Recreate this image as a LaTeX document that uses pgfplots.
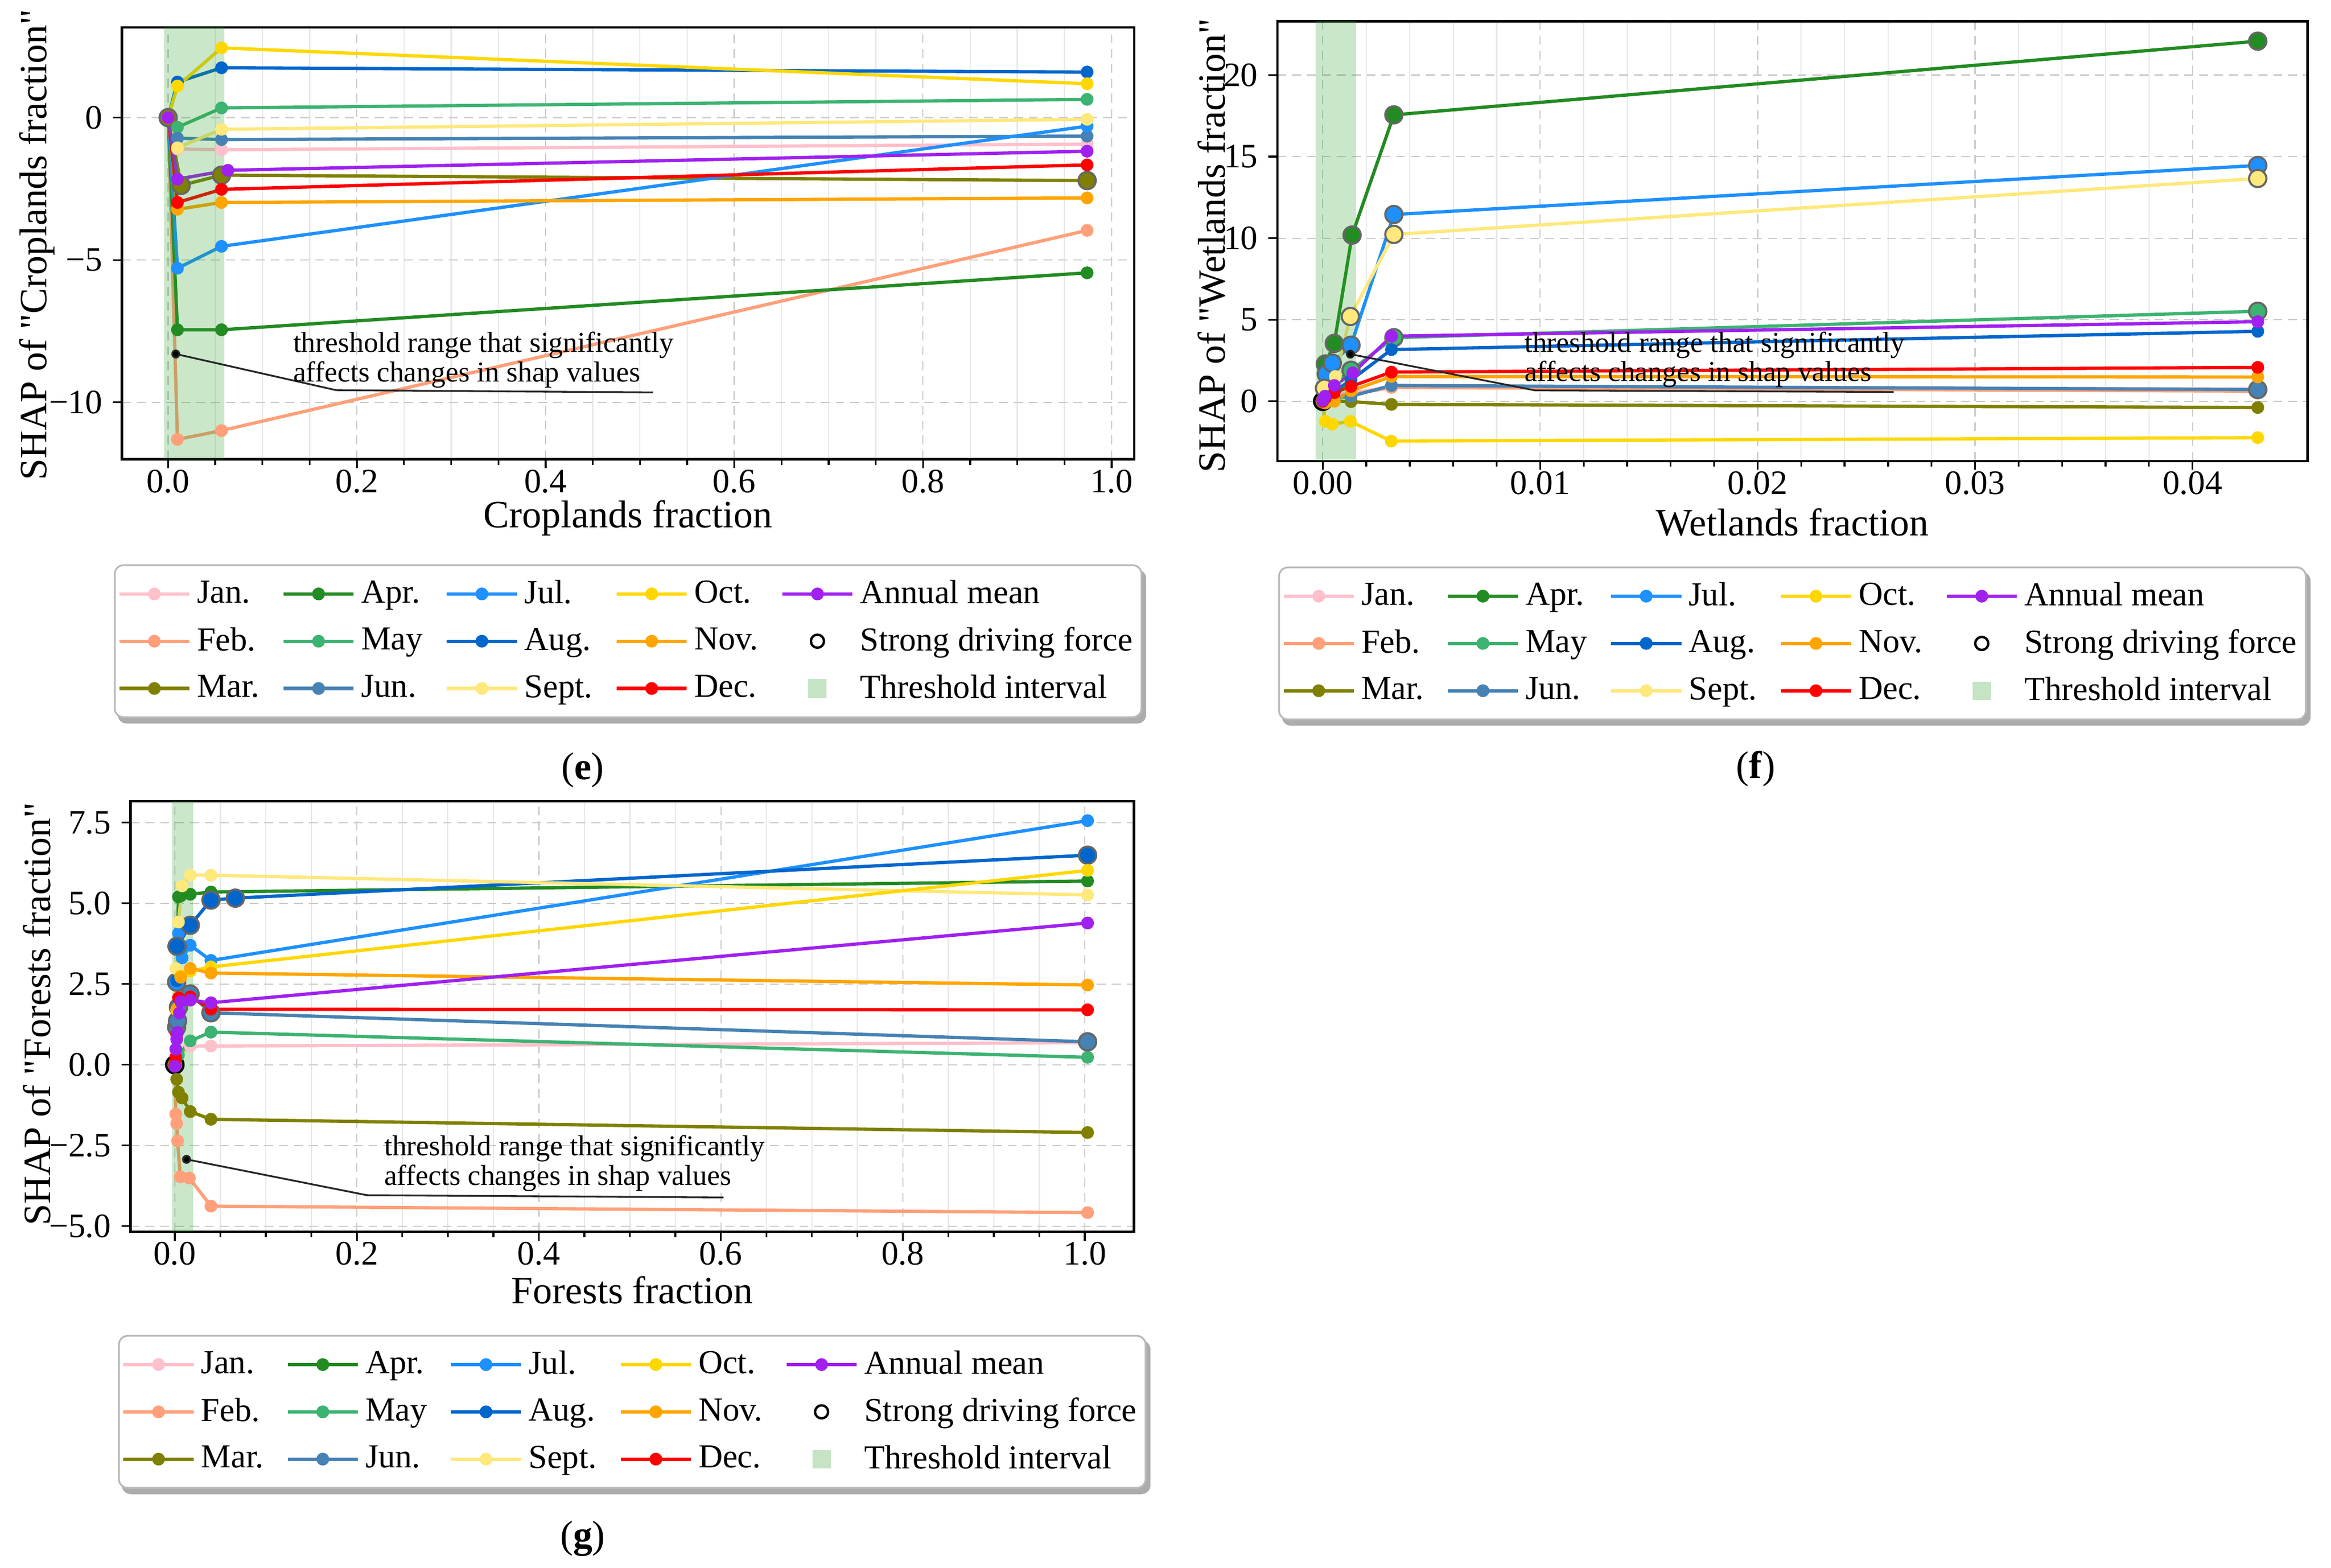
\documentclass[border=0pt]{standalone}
\usepackage{fontspec}
\setmainfont{Liberation Serif}[Ligatures=TeXOff]
\usepackage{pgfplots}
\pgfplotsset{compat=1.18}
\pgfdeclarelayer{background}
\pgfsetlayers{background,main}

\definecolor{cjan}{HTML}{FFC0CB}
\definecolor{cfeb}{HTML}{FFA07A}
\definecolor{cmar}{HTML}{808000}
\definecolor{capr}{HTML}{228B22}
\definecolor{cmay}{HTML}{3CB371}
\definecolor{cjun}{HTML}{4682B4}
\definecolor{cjul}{HTML}{1E90FF}
\definecolor{caug}{HTML}{0066CC}
\definecolor{csep}{HTML}{FFE87C}
\definecolor{coct}{HTML}{FFD700}
\definecolor{cnov}{HTML}{FFA500}
\definecolor{cdec}{HTML}{FF0000}
\definecolor{cann}{HTML}{A020F0}
\definecolor{cband}{HTML}{2CA02C}

\pgfplotsset{
  ser/.style={forget plot, color=#1, line width=1.1pt, mark=*, mark size=2pt, mark options={solid, fill=#1, draw=#1, line width=0.3pt}},
  serleg/.style={color=#1, line width=1.1pt, mark=*, mark size=2pt, mark options={solid, fill=#1, draw=#1, line width=0.3pt}},
  strong/.style={forget plot, only marks, mark=*, mark size=2.9pt, mark options={fill=#1, draw=black!60, line width=0.7pt}},
  strongk/.style={forget plot, only marks, mark=*, mark size=2.9pt, mark options={fill=#1, draw=black, line width=0.8pt}},
  ann/.style={forget plot, black!85, line width=0.6pt, mark=*, mark size=1.2pt, mark indices={1}, mark options={solid, fill=black}},
  band/.style={forget plot, fill=cband, fill opacity=0.25, draw=none},
  panel/.style={
    scale only axis, anchor=north west, clip=true,
    axis line style={line width=0.8pt, black},
    tick align=outside, tick pos=left,
    major tick length=3pt, minor tick length=1.8pt,
    tick style={black, line width=0.6pt},
    scaled x ticks=false, scaled y ticks=false,
    xmajorgrids=true, xminorgrids=true, ymajorgrids=true,
    major grid style={densely dashed, gray!40, line width=0.4pt},
    minor grid style={gray!18, line width=0.4pt},
    tick label style={font=\fontsize{11.5}{13}\selectfont},
    xticklabel style={yshift=3pt},
    label style={font=\fontsize{13}{15}\selectfont},
    legend columns=5, legend cell align=left,
    legend image code/.code={\draw[mark repeat=2,mark phase=2,##1] plot coordinates {(0pt,0pt) (11.8pt,0pt) (23.6pt,0pt)};},
    legend style={anchor=north, draw=gray!55, line width=0.6pt, rounded corners=3pt, fill=white,
       font=\fontsize{11.3}{13}\selectfont, inner xsep=1pt, inner ysep=3pt, row sep=2.5pt,
       /tikz/every even column/.append style={column sep=5.5pt}},
  },
}

\newcommand{\mylegend}{%
\addlegendimage{serleg=cjan}\addlegendentry{Jan.}
\addlegendimage{serleg=capr}\addlegendentry{Apr.}
\addlegendimage{serleg=cjul}\addlegendentry{Jul.}
\addlegendimage{serleg=coct}\addlegendentry{Oct.}
\addlegendimage{serleg=cann}\addlegendentry{Annual mean}
\addlegendimage{serleg=cfeb}\addlegendentry{Feb.}
\addlegendimage{serleg=cmay}\addlegendentry{May}
\addlegendimage{serleg=caug}\addlegendentry{Aug.}
\addlegendimage{serleg=cnov}\addlegendentry{Nov.}
\addlegendimage{only marks, mark=o, mark size=2.2pt, black, line width=0.8pt}\addlegendentry{Strong driving force}
\addlegendimage{serleg=cmar}\addlegendentry{Mar.}
\addlegendimage{serleg=cjun}\addlegendentry{Jun.}
\addlegendimage{serleg=csep}\addlegendentry{Sept.}
\addlegendimage{serleg=cdec}\addlegendentry{Dec.}
\addlegendimage{only marks, mark=square*, mark size=2.8pt, color=cband!28!white, mark options={draw=none, fill=cband!28!white}}\addlegendentry{Threshold interval}
}
\newcommand{\legshadow}[1]{%
\begin{pgfonlayer}{background}
\fill[gray!65, rounded corners=3pt] ([xshift=1.3pt,yshift=-1.8pt]#1.south west) rectangle ([xshift=1.3pt,yshift=-1.8pt]#1.north east);
\end{pgfonlayer}}

\begin{document}
\begin{tikzpicture}
\useasboundingbox (0,0) rectangle (784pt,-527.2pt);

% ---------------- (e) Croplands ----------------
\begin{axis}[panel,
  at={(41pt,-9.25pt)}, width=340.5pt, height=145.25pt,
  xmin=-0.049, xmax=1.024, ymin=-12.0, ymax=3.165,
  xtick={0,0.2,0.4,0.6,0.8,1.0}, xticklabels={0.0,0.2,0.4,0.6,0.8,1.0},
  minor x tick num=3,
  ytick={-10,-5,0}, yticklabels={−10,−5,0},
  xlabel={Croplands fraction}, ylabel={SHAP of "Croplands fraction"},
  x label style={at={(axis description cs:0.5,-0.136)}, anchor=center},
  y label style={at={(axis description cs:-0.0837,0.497)}, anchor=center},
  legend style={at={(0.5,-0.243)}, name=legE},
]
\mylegend
\addplot[ser=cjan] coordinates {(0,0) (0.0099,-1.10) (0.0566,-1.13) (0.974,-0.93)};
\addplot[ser=cfeb] coordinates {(0,0) (0.0099,-11.30) (0.0566,-10.99) (0.974,-3.96)};
\addplot[strong=cmar] coordinates {(0,0)};
\addplot[ser=cmar] coordinates {(0,0) (0.0138,-2.38) (0.0566,-2.02) (0.974,-2.21)};
\addplot[strong=cmar] coordinates {(0.0138,-2.38) (0.0566,-2.02) (0.974,-2.21)};
\addplot[ser=capr] coordinates {(0,0) (0.0099,-7.45) (0.0566,-7.45) (0.974,-5.45)};
\addplot[ser=cmay] coordinates {(0,0) (0.0099,-0.34) (0.0566,0.34) (0.974,0.64)};
\addplot[ser=cjun] coordinates {(0,0) (0.0099,-0.72) (0.0566,-0.77) (0.974,-0.65)};
\addplot[ser=cjul] coordinates {(0,0) (0.0099,-5.29) (0.0566,-4.52) (0.974,-0.30)};
\addplot[ser=caug] coordinates {(0,0) (0.0099,1.25) (0.0566,1.75) (0.974,1.60)};
\addplot[ser=csep] coordinates {(0,0) (0.0099,-1.06) (0.0566,-0.41) (0.974,-0.06)};
\addplot[ser=coct] coordinates {(0,0) (0.0099,1.11) (0.0566,2.45) (0.974,1.19)};
\addplot[ser=cnov] coordinates {(0,0) (0.0099,-3.22) (0.0566,-2.98) (0.974,-2.82)};
\addplot[ser=cdec] coordinates {(0,0) (0.0099,-2.98) (0.0566,-2.52) (0.974,-1.66)};
\addplot[ser=cann] coordinates {(0,0) (0.0099,-2.16) (0.0633,-1.85) (0.974,-1.18)};
\addplot[band] coordinates {(-0.0043,-50) (0.0594,-50) (0.0594,50) (-0.0043,50)} -- cycle;
\addplot[ann] coordinates {(0.0081,-8.30) (0.178,-9.57) (0.514,-9.65)};
\node[anchor=west, align=left, inner sep=0pt, font=\fontsize{9.7}{7.6}\selectfont] at (axis cs:0.132,-8.51) {threshold range that significantly\\affects changes in shap values};
\end{axis}
\legshadow{legE}

% ---------------- (f) Wetlands ----------------
\begin{axis}[panel,
  at={(429.6pt,-7.15pt)}, width=346.5pt, height=147.9pt,
  xmin=-0.00209, xmax=0.04529, ymin=-3.66, ymax=23.3,
  xtick={0,0.01,0.02,0.03,0.04}, xticklabels={0.00,0.01,0.02,0.03,0.04},
  minor x tick num=4,
  ytick={0,5,10,15,20}, yticklabels={0,5,10,15,20},
  xlabel={Wetlands fraction}, ylabel={SHAP of "Wetlands fraction"},
  x label style={at={(axis description cs:0.5,-0.139)}, anchor=center},
  y label style={at={(axis description cs:-0.0635,0.49)}, anchor=center},
  legend style={at={(0.5,-0.240)}, name=legF},
]
\mylegend
\addplot[ser=cjan] coordinates {(0,0) (0.00012,0.2) (0.00053,0.4) (0.0013,0.5) (0.00316,0.9) (0.043,0.75)};
\addplot[ser=cfeb] coordinates {(0,0) (0.00012,0.1) (0.00053,0.3) (0.0013,0.4) (0.00316,0.85) (0.043,0.62)};
\addplot[strongk=cmar] coordinates {(0,0)};
\addplot[ser=cmar] coordinates {(0,0) (0.00012,0.05) (0.00053,0.02) (0.0013,-0.02) (0.00316,-0.19) (0.043,-0.38)};
\addplot[ser=capr] coordinates {(0,0) (0.00012,2.29) (0.00053,3.55) (0.00135,10.19) (0.00327,17.56) (0.043,22.08)};
\addplot[strong=capr] coordinates {(0.00012,2.29) (0.00053,3.55) (0.00135,10.19) (0.00327,17.56) (0.043,22.08)};
\addplot[ser=cmay] coordinates {(0,0) (0.00012,0.6) (0.00053,1.1) (0.0013,1.9) (0.00327,3.9) (0.043,5.52)};
\addplot[strong=cmay] coordinates {(0.0013,1.9) (0.00327,3.9) (0.043,5.52)};
\addplot[ser=cjun] coordinates {(0,0) (0.00012,0.1) (0.00053,0.2) (0.0013,0.31) (0.00316,0.97) (0.043,0.72)};
\addplot[strong=cjun] coordinates {(0.043,0.72)};
\addplot[ser=cjul] coordinates {(0,0) (0.00016,1.68) (0.00044,2.34) (0.0013,3.44) (0.00327,11.45) (0.043,14.46)};
\addplot[strong=cjul] coordinates {(0.00016,1.68) (0.00044,2.34) (0.0013,3.44) (0.00327,11.45) (0.043,14.46)};
\addplot[ser=caug] coordinates {(0,0) (0.00012,0.3) (0.00053,0.6) (0.0013,1.3) (0.00316,3.17) (0.043,4.29)};
\addplot[ser=csep] coordinates {(0,0) (0.00008,0.8) (0.00058,1.52) (0.00127,5.2) (0.00327,10.23) (0.043,13.66)};
\addplot[strong=csep] coordinates {(0.00008,0.8) (0.00127,5.2) (0.00327,10.23) (0.043,13.66)};
\addplot[ser=coct] coordinates {(0,0) (0.00012,-1.23) (0.00044,-1.40) (0.00127,-1.23) (0.00315,-2.44) (0.043,-2.23)};
\addplot[ser=cnov] coordinates {(0,0) (0.00012,-0.1) (0.00053,0.0) (0.0013,0.64) (0.00316,1.52) (0.043,1.49)};
\addplot[ser=cdec] coordinates {(0,0) (0.00012,0.2) (0.00053,0.53) (0.0013,0.91) (0.00316,1.79) (0.043,2.08)};
\addplot[ser=cann] coordinates {(0,0.05) (0.0001,0.31) (0.00053,0.97) (0.00138,1.74) (0.00317,3.99) (0.043,4.88)};
\addplot[band] coordinates {(-0.00034,-50) (0.00152,-50) (0.00152,50) (-0.00034,50)} -- cycle;
\addplot[ann] coordinates {(0.00127,2.89) (0.00976,0.67) (0.02626,0.57)};
\node[anchor=west, align=left, inner sep=0pt, font=\fontsize{9.7}{7.6}\selectfont] at (axis cs:0.00925,2.55) {threshold range that significantly\\affects changes in shap values};
\end{axis}
\legshadow{legF}

% ---------------- (g) Forests ----------------
\begin{axis}[panel,
  at={(43.9pt,-269.5pt)}, width=337.5pt, height=144.75pt,
  xmin=-0.0487, xmax=1.054, ymin=-5.17, ymax=8.16,
  xtick={0,0.2,0.4,0.6,0.8,1.0}, xticklabels={0.0,0.2,0.4,0.6,0.8,1.0},
  minor x tick num=3,
  ytick={-5,-2.5,0,2.5,5,7.5}, yticklabels={−5.0,−2.5,0.0,2.5,5.0,7.5},
  xlabel={Forests fraction}, ylabel={SHAP of "Forests fraction"},
  x label style={at={(axis description cs:0.5,-0.136)}, anchor=center},
  y label style={at={(axis description cs:-0.0933,0.506)}, anchor=center},
  legend style={at={(0.5,-0.240)}, name=legG},
]
\mylegend
\addplot[ser=cjan] coordinates {(0,0) (0.004,0.3) (0.017,0.58) (0.0397,0.58) (1.003,0.68)};
\addplot[ser=cfeb] coordinates {(0,0) (0.001,-1.53) (0.002,-1.82) (0.003,-2.36) (0.006,-3.47) (0.016,-3.51) (0.0397,-4.38) (1.003,-4.58)};
\addplot[strongk=cmar] coordinates {(0,0)};
\addplot[ser=cmar] coordinates {(0,0) (0.002,-0.45) (0.004,-0.85) (0.008,-1.03) (0.017,-1.45) (0.0397,-1.69) (1.003,-2.10)};
\addplot[ser=capr] coordinates {(0,0) (0.004,5.2) (0.0065,5.23) (0.017,5.28) (0.0397,5.35) (1.003,5.69)};
\addplot[ser=cmay] coordinates {(0,0) (0.004,0.3) (0.017,0.74) (0.0397,1.01) (1.003,0.23)};
\addplot[ser=cjun] coordinates {(0,0) (0.002,1.16) (0.003,1.36) (0.004,1.78) (0.0167,2.19) (0.0397,1.61) (1.003,0.71)};
\addplot[strong=cjun] coordinates {(0.002,1.16) (0.003,1.36) (0.004,1.78) (0.0167,2.19) (0.0397,1.61) (1.003,0.71)};
\addplot[ser=cjul] coordinates {(0,0) (0.002,2.56) (0.004,4.07) (0.008,3.31) (0.017,3.70) (0.0397,3.23) (1.003,7.56)};
\addplot[strong=cjul] coordinates {(0.002,2.56)};
\addplot[ser=caug] coordinates {(0,0) (0.002,2.6) (0.0024,3.67) (0.017,4.32) (0.0397,5.10) (0.0665,5.16) (1.003,6.49)};
\addplot[strong=caug] coordinates {(0.0024,3.67) (0.017,4.32) (0.0397,5.10) (0.0665,5.16) (1.003,6.49)};
\addplot[ser=csep] coordinates {(0,0) (0.001,2.98) (0.004,4.42) (0.008,5.54) (0.017,5.87) (0.0397,5.87) (1.003,5.26)};
\addplot[ser=coct] coordinates {(0,0) (0.002,1.7) (0.0065,2.75) (0.017,2.9) (0.0397,3.03) (1.003,6.02)};
\addplot[ser=cnov] coordinates {(0,0) (0.003,1.75) (0.0065,2.71) (0.017,2.98) (0.0397,2.84) (1.003,2.47)};
\addplot[ser=cdec] coordinates {(0,0) (0.001,0.23) (0.002,0.94) (0.004,2.07) (0.017,2.10) (0.0397,1.72) (1.003,1.70)};
\addplot[ser=cann] coordinates {(0,-0.05) (0.001,0.48) (0.002,0.79) (0.003,1.0) (0.005,1.6) (0.0065,1.95) (0.017,2.0) (0.0397,1.92) (1.003,4.39)};
\addplot[band] coordinates {(-0.003,-50) (0.0203,-50) (0.0203,50) (-0.003,50)} -- cycle;
\addplot[ann] coordinates {(0.0128,-2.93) (0.211,-4.04) (0.603,-4.11)};
\node[anchor=west, align=left, inner sep=0pt, font=\fontsize{9.7}{7.6}\selectfont] at (axis cs:0.2295,-3.05) {threshold range that significantly\\affects changes in shap values};
\end{axis}
\legshadow{legG}

\node[font=\fontsize{13}{15}\selectfont] at (196pt,-259pt) {(\textbf{e})};
\node[font=\fontsize{13}{15}\selectfont] at (590.5pt,-258.5pt) {(\textbf{f})};
\node[font=\fontsize{13}{15}\selectfont] at (196pt,-517.5pt) {(\textbf{g})};
\end{tikzpicture}
\end{document}
